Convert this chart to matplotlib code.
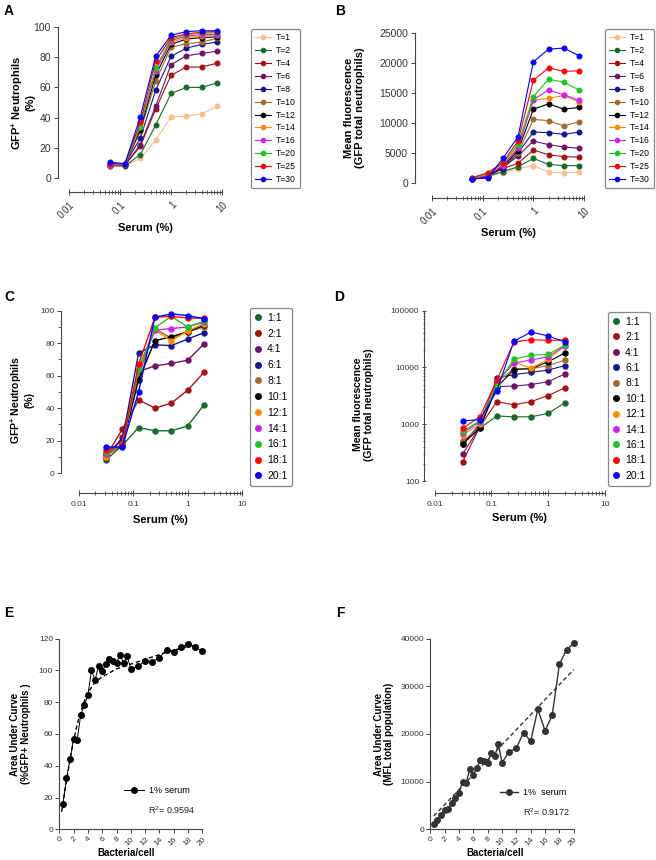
"""
Serum opsonisation panels A-F: GFP+ neutrophils and mean fluorescence
vs serum concentration, plus area-under-curve vs bacteria/cell
"""
import numpy as np
import matplotlib
matplotlib.use('Agg')
import matplotlib.pyplot as plt
from matplotlib.lines import Line2D
from matplotlib.ticker import FixedLocator, LogLocator, NullFormatter, MultipleLocator

plt.rcParams['font.family'] = ['Liberation Sans', 'DejaVu Sans']
plt.rcParams['mathtext.fontset'] = 'custom'
plt.rcParams['mathtext.rm'] = 'Liberation Sans'
plt.rcParams['mathtext.bf'] = 'Liberation Sans:bold'

W, H = 656, 860

# ---- A / B: serum titration, one curve per time point ----
serum_ab = [0.0625, 0.125, 0.25, 0.5, 1, 2, 4, 8]
time_labels = ['T=1', 'T=2', 'T=4', 'T=6', 'T=8', 'T=10', 'T=12',
               'T=14', 'T=16', 'T=20', 'T=25', 'T=30']
time_colors = ['#F7C08C', '#1A6B2A', '#A31212', '#6E1465', '#16168E', '#9E6B30',
               '#000000', '#FF8C00', '#CC22EE', '#22C422', '#FF0000', '#0000FF']

gfp_time = [
    [8, 8, 13, 25, 40.5, 41, 42.5, 47.5],
    [8, 8, 15.5, 35, 56, 60, 60, 63],
    [8.5, 8.5, 21, 45.5, 68, 73.5, 73.5, 76],
    [8.5, 8.5, 22, 47.5, 75, 81, 82.5, 84],
    [9, 9, 26.5, 58, 80.5, 86, 88.5, 90],
    [9, 9, 31, 64, 86.5, 89, 90, 92.5],
    [9, 9, 32, 68, 88.5, 92, 93, 93.5],
    [9, 9, 36, 71, 90, 93, 94, 95],
    [8, 9, 34, 71, 91, 94, 95, 95],
    [9, 9, 34, 73, 92, 95, 96, 96],
    [9.5, 9.5, 37, 77.5, 93, 95.5, 96.5, 97],
    [10.5, 9.5, 40.5, 80.5, 94.5, 97, 97.5, 97.5],
]

mfi_time = [
    [700, 1100, 1700, 2400, 2900, 1800, 1700, 1800],
    [600, 1100, 1900, 2700, 4100, 3100, 2900, 2900],
    [700, 1300, 2400, 3300, 5500, 4700, 4400, 4300],
    [600, 1200, 2600, 4500, 7000, 6400, 6000, 5800],
    [600, 1100, 2400, 5000, 8500, 8400, 8100, 8500],
    [700, 1300, 2800, 5000, 10600, 10400, 9500, 10200],
    [700, 1200, 2800, 5400, 12300, 13200, 12300, 12600],
    [800, 1400, 3000, 6000, 13800, 14100, 14600, 13500],
    [600, 1300, 2900, 5800, 13900, 15500, 14700, 13800],
    [800, 1500, 3300, 6400, 14400, 17300, 16800, 15500],
    [900, 1700, 3400, 7000, 17100, 19200, 18600, 18700],
    [700, 800, 4100, 7700, 20200, 22300, 22500, 21200],
]

# ---- C / D: serum titration, one curve per bacteria:cell ratio ----
serum_cd = [0.03125, 0.0625, 0.125, 0.25, 0.5, 1, 2]
ratio_labels = ['1:1', '2:1', '4:1', '6:1', '8:1', '10:1', '12:1',
                '14:1', '16:1', '18:1', '20:1']
ratio_colors = ['#1A6B2A', '#A31212', '#6E1465', '#16168E', '#9E6B30', '#000000',
                '#FF8C00', '#CC22EE', '#22C422', '#FF0000', '#0000FF']

gfp_ratio = [
    [8, 17, 28, 26, 26, 29, 42],
    [10, 27, 45, 40, 43, 51, 62],
    [9, 22, 62.5, 66, 67.5, 69.5, 79.5],
    [12, 20, 74, 79, 78.5, 82.5, 86.5],
    [10, 18, 60, 89, 83, 87, 90],
    [11, 17, 57.5, 81.5, 84, 87, 91],
    [10, 18, 65, 88, 81.5, 87.5, 92],
    [12, 17, 64, 88, 89, 90, 93],
    [13, 17, 64, 89.5, 96.5, 90, 93.5],
    [14, 17, 67, 96, 96.5, 95.5, 95.5],
    [16, 16, 50, 96, 98, 97, 95],
]

mfi_ratio = [
    [500, 850, 1400, 1350, 1350, 1550, 2400],
    [220, 900, 2500, 2200, 2500, 3200, 4400],
    [300, 900, 4600, 4700, 5000, 5600, 7700],
    [450, 1000, 6500, 7500, 8200, 9000, 10800],
    [500, 900, 5500, 9500, 9500, 10800, 13500],
    [450, 850, 4500, 9200, 9500, 12600, 18000],
    [650, 1000, 5800, 12500, 9700, 14000, 24000],
    [700, 1100, 5500, 12000, 13500, 15500, 24000],
    [750, 1150, 5000, 14000, 16500, 17000, 25000],
    [850, 1350, 6000, 28000, 31000, 30000, 30500],
    [1150, 1200, 3900, 29000, 42000, 36000, 28000],
]

# ---- E / F: area under curve vs bacteria per cell (1% serum) ----
bacteria = [0.5, 1, 1.5, 2, 2.5, 3, 3.5, 4, 4.5, 5, 5.5, 6, 6.5, 7, 7.5,
            8, 8.5, 9, 9.5, 10, 11, 12, 13, 14, 15, 16, 17, 18, 19, 20]
auc_gfp = [16, 32, 44, 57, 56.5, 72, 78, 84.5, 100, 94, 103, 99.5, 104, 107.5, 106,
           105, 109.5, 105, 109, 101, 102.5, 106, 105.5, 108, 113, 111.5, 114.5,
           116.5, 115, 112]
auc_mfi = [1100, 1950, 2950, 4050, 4250, 5600, 6650, 7550, 10000, 9700, 12600,
           11500, 12900, 14550, 14400, 13900, 16100, 15400, 17800, 14000, 16300,
           17000, 20300, 18500, 25200, 20700, 23900, 34600, 37700, 39000]
# fitted curves as drawn in the figure
fit_gfp_x = [0.33, 0.7, 1, 1.5, 2, 2.5, 3, 3.5, 4, 5, 6, 8, 10, 12, 15, 17, 19]
fit_gfp_y = [11, 22, 30, 44, 56, 66, 74, 80.5, 86, 92.5, 96, 101, 104, 107, 111.5, 114, 116]
fit_mfi_x = [0.5, 20]
fit_mfi_y = [2800, 33500]
r2_gfp = '0.9594'
r2_mfi = '0.9172'

TICK_COLOR = '#333333'


def px_axes(fig, left, top, right, bottom):
    """Axes from a pixel box (origin top left)"""
    return fig.add_axes([left / W, 1 - bottom / H, (right - left) / W, (bottom - top) / H])


def offset_spines(ax, left_px, bottom_px):
    # set_position resets the ticks, so call this before styling them
    ax.spines['top'].set_visible(False)
    ax.spines['right'].set_visible(False)
    ax.spines['left'].set_position(('outward', left_px * 72 / 100))
    ax.spines['bottom'].set_position(('outward', bottom_px * 72 / 100))
    for s in ('left', 'bottom'):
        ax.spines[s].set_color('#444444')
        ax.spines[s].set_linewidth(0.8)


def serum_xaxis(ax, fontsize, rotate):
    ax.set_xscale('log')
    ax.set_xlim(0.01, 10)
    ax.xaxis.set_major_locator(FixedLocator([0.01, 0.1, 1, 10]))
    ax.xaxis.set_minor_locator(LogLocator(base=10, subs=np.arange(2, 10)))
    ax.xaxis.set_minor_formatter(NullFormatter())
    ax.tick_params(axis='x', which='major', direction='inout', length=4,
                   width=0.7, labelsize=fontsize, colors='#444444', labelcolor=TICK_COLOR)
    ax.tick_params(axis='x', which='minor', direction='inout', length=2.5,
                   width=0.6, colors='#444444')
    if rotate:
        ax.set_xticklabels(['0.01', '0.1', '1', '10'], rotation=45,
                           ha='right', rotation_mode='anchor')
    else:
        ax.set_xticklabels(['0.01', '0.1', '1', '10'])


def line_legend(ax, labels, colors, anchor, fontsize, spacing):
    handles = [Line2D([0], [0], color=c, marker='o', markersize=3, lw=0.8)
               for c in colors]
    leg = ax.legend(handles, labels, loc='upper left', bbox_to_anchor=anchor,
                    bbox_transform=ax.figure.transFigure, fontsize=fontsize,
                    frameon=True, fancybox=True, edgecolor='#888888', framealpha=1,
                    handlelength=1.8, handletextpad=0.6, labelspacing=spacing,
                    borderpad=0.5, borderaxespad=0)
    leg.get_frame().set_linewidth(0.9)
    return leg


def dot_legend(ax, labels, colors, anchor, fontsize, spacing):
    handles = [Line2D([0], [0], color=c, marker='o', markersize=4, lw=0)
               for c in colors]
    leg = ax.legend(handles, labels, loc='upper left', bbox_to_anchor=anchor,
                    bbox_transform=ax.figure.transFigure, fontsize=fontsize,
                    frameon=True, fancybox=True, edgecolor='#888888', framealpha=1,
                    handlelength=0.6, handletextpad=0.6, labelspacing=spacing,
                    borderpad=0.45, borderaxespad=0)
    leg.get_frame().set_linewidth(0.9)
    return leg


def panel_a(fig):
    ax = px_axes(fig, 69, 27, 222, 178)
    offset_spines(ax, 11, 14)
    for vals, c in zip(gfp_time, time_colors):
        ax.plot(serum_ab, vals, color=c, marker='o', markersize=3.3, lw=0.8, clip_on=False)
    serum_xaxis(ax, 7, rotate=True)
    ax.set_ylim(0, 100)
    ax.yaxis.set_major_locator(MultipleLocator(20))
    ax.tick_params(axis='y', length=3, width=0.7, labelsize=7.5,
                   colors='#444444', labelcolor=TICK_COLOR, pad=2)
    ax.set_ylabel('GFP$^{\\mathbf{+}}$ Neutrophils\n(%)', fontsize=8, fontweight='bold',
                  linespacing=1.1)
    ax.yaxis.set_label_coords(-0.22, 0.5)
    ax.set_xlabel('Serum (%)', fontsize=8, fontweight='bold')
    ax.xaxis.set_label_coords(0.5, -0.30)
    line_legend(ax, time_labels, time_colors, (251 / W, 1 - 29 / H), 6.2, 0.45)


def panel_b(fig):
    ax = px_axes(fig, 432, 33, 584, 183)
    offset_spines(ax, 17, 15)
    for vals, c in zip(mfi_time, time_colors):
        ax.plot(serum_ab, vals, color=c, marker='o', markersize=3.3, lw=0.8, clip_on=False)
    serum_xaxis(ax, 7, rotate=True)
    ax.set_ylim(0, 25000)
    ax.yaxis.set_major_locator(MultipleLocator(5000))
    ax.tick_params(axis='y', length=3, width=0.7, labelsize=7.5,
                   colors='#444444', labelcolor=TICK_COLOR, pad=2)
    ax.set_ylabel('Mean fluorescence\n(GFP total neutrophils)', fontsize=8,
                  fontweight='bold', linespacing=1.1)
    ax.yaxis.set_label_coords(-0.44, 0.5)
    ax.set_xlabel('Serum (%)', fontsize=8, fontweight='bold')
    ax.xaxis.set_label_coords(0.5, -0.30)
    line_legend(ax, time_labels, time_colors, (605 / W, 1 - 29 / H), 6.2, 0.45)


def panel_c(fig):
    ax = px_axes(fig, 79, 310.7, 242, 473)
    offset_spines(ax, 18, 20)
    for vals, c in zip(gfp_ratio, ratio_colors):
        ax.plot(serum_cd, vals, color=c, marker='o', markersize=3.6, lw=1.0, clip_on=False)
    serum_xaxis(ax, 6, rotate=False)
    ax.set_ylim(0, 100)
    ax.yaxis.set_major_locator(MultipleLocator(20))
    ax.yaxis.set_minor_locator(MultipleLocator(10))
    ax.tick_params(axis='y', which='major', length=3, width=0.7, labelsize=6,
                   colors='#444444', labelcolor=TICK_COLOR, pad=1.5)
    ax.tick_params(axis='y', which='minor', length=2, width=0.6, colors='#444444')
    ax.set_ylabel('GFP$^{\\mathbf{+}}$ Neutrophils\n(%)', fontsize=7.5, fontweight='bold',
                  linespacing=1.1)
    ax.yaxis.set_label_coords(-0.27, 0.45)
    ax.set_xlabel('Serum (%)', fontsize=8, fontweight='bold')
    ax.xaxis.set_label_coords(0.5, -0.26)
    dot_legend(ax, ratio_labels, ratio_colors, (250 / W, 1 - 308 / H), 7.5, 0.56)


def panel_d(fig):
    ax = px_axes(fig, 434.7, 310.7, 604.7, 481)
    offset_spines(ax, 11, 12)
    for vals, c in zip(mfi_ratio, ratio_colors):
        ax.plot(serum_cd, vals, color=c, marker='o', markersize=3.6, lw=0.8, clip_on=False)
    serum_xaxis(ax, 6, rotate=False)
    ax.set_yscale('log')
    ax.set_ylim(100, 100000)
    ax.yaxis.set_major_locator(FixedLocator([100, 1000, 10000, 100000]))
    ax.set_yticklabels(['100', '1000', '10000', '100000'])
    ax.yaxis.set_minor_locator(LogLocator(base=10, subs=np.arange(2, 10)))
    ax.yaxis.set_minor_formatter(NullFormatter())
    ax.tick_params(axis='y', which='major', direction='inout', length=3.5, width=0.7,
                   labelsize=6, colors='#444444', labelcolor=TICK_COLOR, pad=1.5)
    ax.tick_params(axis='y', which='minor', direction='inout', length=2, width=0.5,
                   colors='#444444')
    ax.set_ylabel('Mean fluorescence\n(GFP total neutrophils)', fontsize=7.5,
                  fontweight='bold', linespacing=1.1)
    ax.yaxis.set_label_coords(-0.36, 0.45)
    ax.set_xlabel('Serum (%)', fontsize=8, fontweight='bold')
    ax.xaxis.set_label_coords(0.5, -0.185)
    dot_legend(ax, ratio_labels, ratio_colors, (608 / W, 1 - 312 / H), 7.5, 0.52)


def auc_axes(ax, ymax, ystep):
    ax.set_xlim(0, 20)
    ax.set_ylim(0, ymax)
    ax.yaxis.set_major_locator(MultipleLocator(ystep))
    ax.set_xticks(np.arange(0, 21, 2))
    ax.tick_params(length=3, width=0.7, labelsize=6, colors='#444444',
                   labelcolor=TICK_COLOR, pad=1.5)
    ax.set_xticklabels([str(v) for v in range(0, 21, 2)], rotation=45,
                       ha='right', rotation_mode='anchor')
    ax.spines['top'].set_visible(False)
    ax.spines['right'].set_visible(False)
    for s in ('left', 'bottom'):
        ax.spines[s].set_color('#444444')
        ax.spines[s].set_linewidth(0.8)
    ax.set_xlabel('Bacteria/cell', fontsize=7, fontweight='bold')


def panel_e(fig):
    ax = px_axes(fig, 59.3, 638.7, 202.3, 829.3)
    ax.plot(fit_gfp_x, fit_gfp_y, color='black', ls=(0, (3, 2)), lw=1.0)
    ax.plot(bacteria, auc_gfp, color='black', marker='o', markersize=4, lw=0.7,
            clip_on=False, label='1% serum')
    auc_axes(ax, 120, 20)
    ax.set_ylabel('Area Under Curve\n(%GFP+ Neutrophils )', fontsize=7,
                  fontweight='bold', linespacing=1.1)
    ax.yaxis.set_label_coords(-0.2, 0.5)
    ax.xaxis.set_label_coords(0.47, -0.098)
    ax.legend(loc='upper left', bbox_to_anchor=(124 / W, 1 - 786 / H),
              bbox_transform=fig.transFigure, frameon=False, fontsize=6.5,
              handlelength=2.2, handletextpad=0.6, borderpad=0, borderaxespad=0)
    ax.text(148 / W, 1 - 810 / H, 'R$^2$= ' + r2_gfp, transform=fig.transFigure,
            fontsize=6.5, va='center', color='#222222')


def panel_f(fig):
    ax = px_axes(fig, 430.3, 638.7, 573.7, 829.3)
    ax.plot(fit_mfi_x, fit_mfi_y, color='#333333', ls=(0, (3, 2)), lw=1.0)
    ax.plot(bacteria, auc_mfi, color='#333333', marker='o', markersize=4, lw=1.0,
            clip_on=False, label='1%  serum')
    auc_axes(ax, 40000, 10000)
    ax.set_ylabel('Area Under Curve\n(MFL total population)', fontsize=7,
                  fontweight='bold', linespacing=1.1)
    ax.yaxis.set_label_coords(-0.25, 0.5)
    ax.xaxis.set_label_coords(0.45, -0.098)
    ax.legend(loc='upper left', bbox_to_anchor=(500 / W, 1 - 788 / H),
              bbox_transform=fig.transFigure, frameon=False, fontsize=6.5,
              handlelength=2.0, handletextpad=0.6, borderpad=0, borderaxespad=0)
    ax.text(523 / W, 1 - 812 / H, 'R$^2$= ' + r2_mfi, transform=fig.transFigure,
            fontsize=6.5, va='center', color='#222222')


def main():
    fig = plt.figure(figsize=(W / 100, H / 100), dpi=100)
    panel_a(fig)
    panel_b(fig)
    panel_c(fig)
    panel_d(fig)
    panel_e(fig)
    panel_f(fig)

    for letter, x, y in [('A', 4, 4), ('B', 335, 4), ('C', 4, 290),
                         ('D', 334, 290), ('E', 4, 606), ('F', 336, 606)]:
        fig.text(x / W, 1 - y / H, letter, fontsize=10, fontweight='bold', va='top')

    fig.savefig('out.png', dpi=100)
    plt.close(fig)


if __name__ == "__main__":
    main()
